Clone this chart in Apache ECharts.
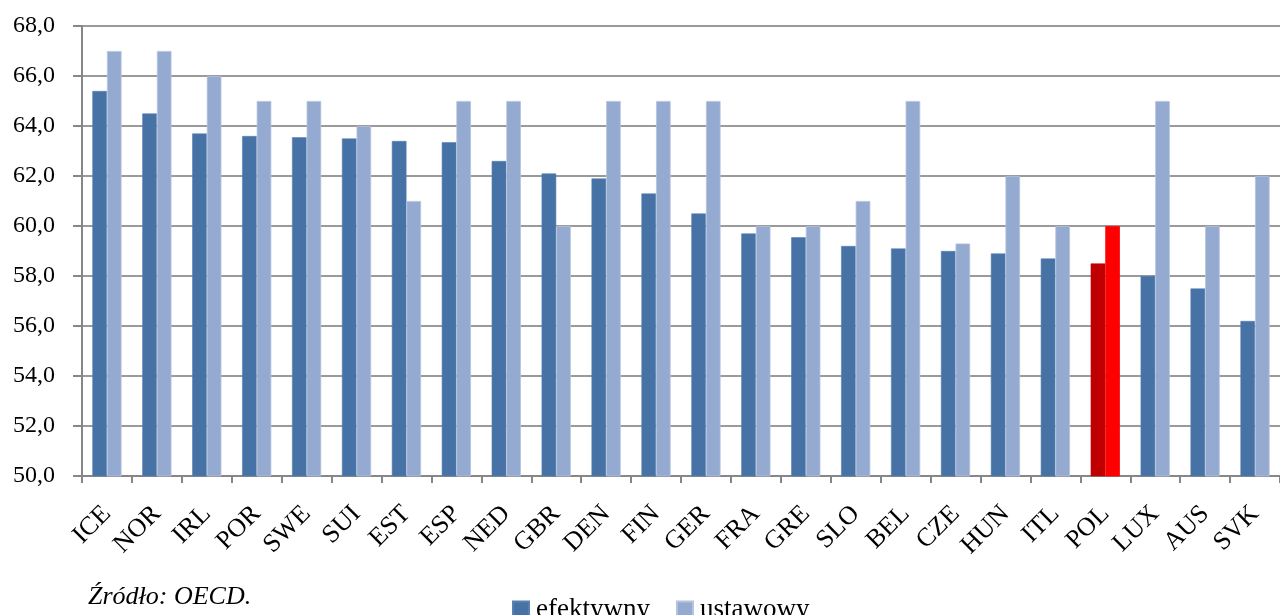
<!DOCTYPE html>
<html>
<head>
<meta charset="utf-8">
<script src="https://cdn.jsdelivr.net/npm/echarts@6/dist/echarts.min.js"></script>
<style>
html,body{margin:0;padding:0;background:#fff;}
#chart{width:1280px;height:615px;}
</style>
</head>
<body>
<div id="chart"></div>
<script>
const categories = ['ICE','NOR','IRL','POR','SWE','SUI','EST','ESP','NED','GBR','DEN','FIN','GER','FRA','GRE','SLO','BEL','CZE','HUN','ITL','POL','LUX','AUS','SVK'];
const efektywny = [65.4, 64.5, 63.7, 63.6, 63.55, 63.5, 63.4, 63.35, 62.6, 62.1, 61.9, 61.3, 60.5, 59.7, 59.55, 59.2, 59.1, 59.0, 58.9, 58.7, 58.5, 58.0, 57.5, 56.2];
const ustawowy = [67.0, 67.0, 66.0, 65.0, 65.0, 64.0, 61.0, 65.0, 65.0, 60.0, 65.0, 65.0, 65.0, 60.0, 60.0, 61.0, 65.0, 59.3, 62.0, 60.0, 60.0, 65.0, 60.0, 62.0];
const highlight = 'POL';
const seriesNames = ['efektywny', 'ustawowy'];
const sourceText = 'Źródło: OECD.';

const DARK = '#4672A6', LIGHT = '#95AAD0', DARK_HL = '#C00000', LIGHT_HL = '#FF0000';
const FONT = '"Liberation Serif", "DejaVu Serif", serif';

function build(values, hlColor) {
  return values.map((v, i) => categories[i] === highlight
    ? { value: v, itemStyle: { color: hlColor, borderColor: hlColor } }
    : v);
}

const chart = echarts.init(document.getElementById('chart'), null, { renderer: 'canvas' });
chart.setOption({
  animation: false,
  backgroundColor: '#fff',
  grid: { left: 82, top: 26, width: 1210, height: 450, containLabel: false },
  legend: {
    data: seriesNames,
    left: 507, top: 591,
    itemWidth: 16, itemHeight: 16, itemGap: 26,
    icon: 'rect',
    textStyle: { fontFamily: FONT, fontSize: 27, color: '#000', padding: [0, 0, 0, 2] }
  },
  xAxis: {
    type: 'category',
    data: categories,
    axisLine: { lineStyle: { color: '#868686', width: 2 } },
    axisTick: { show: true, length: 7, lineStyle: { color: '#868686', width: 2 } },
    axisLabel: { rotate: 45, margin: 34, interval: 0, fontFamily: FONT, fontSize: 26, color: '#000' }
  },
  yAxis: {
    type: 'value',
    min: 50, max: 68, interval: 2,
    axisLine: { show: true, lineStyle: { color: '#868686', width: 2 } },
    axisTick: { show: true, length: 9, lineStyle: { color: '#868686', width: 2 } },
    axisLabel: { margin: 27, fontFamily: FONT, fontSize: 24, color: '#000',
      formatter: v => v.toFixed(1).replace('.', ',') },
    splitLine: { lineStyle: { color: '#9a9a9a', width: 2 } }
  },
  graphic: [{
    type: 'text', left: 88, top: 584,
    style: { text: sourceText, fontFamily: FONT, fontStyle: 'italic', fontSize: 26, fill: '#000' }
  }],
  series: [
    { name: seriesNames[0], type: 'bar', data: build(efektywny, DARK_HL), barWidth: 14.6, barGap: '0%',
      itemStyle: { color: DARK, borderColor: '#5880b0', borderWidth: 0.6 } },
    { name: seriesNames[1], type: 'bar', data: build(ustawowy, LIGHT_HL), barWidth: 14.6, barGap: '0%',
      itemStyle: { color: LIGHT, borderColor: '#b4c3de', borderWidth: 0.8 } }
  ]
});
</script>
</body>
</html>
